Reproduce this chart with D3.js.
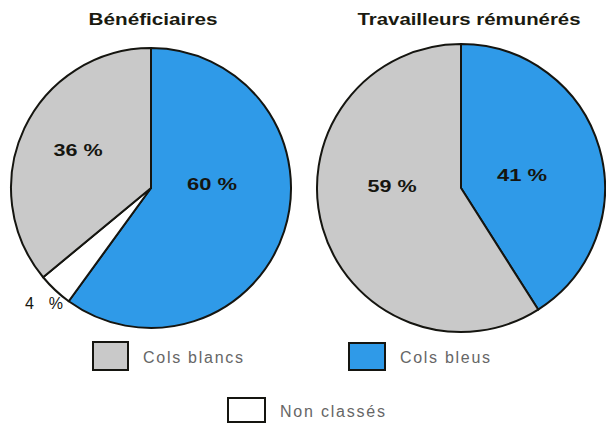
<!DOCTYPE html>
<html>
<head>
<meta charset="utf-8">
<script src="https://cdn.jsdelivr.net/npm/d3@7"></script>
<style>
  html, body { margin: 0; padding: 0; background: #fff; }
  svg { display: block; }
</style>
</head>
<body>
<svg id="chart" width="606" height="427"></svg>
<script>
// Share of each worker category, in percent
const categories = ["Cols bleus", "Non classés", "Cols blancs"];
const beneficiaires = [60, 4, 36];
const travailleurs = [41, 0, 59];
const pieTitles = ["Bénéficiaires", "Travailleurs rémunérés"];
const legendOrder = ["Cols blancs", "Cols bleus", "Non classés"];

const FONT = "Liberation Sans, Arial, sans-serif";
const svg = d3.select("#chart");

const colour = d3.scaleOrdinal()
  .domain(categories)
  .range(["#2f9ae8", "#ffffff", "#c9c9c9"]);

const pie = d3.pie().sort(null).value(d => d.value);

// Layout of the two pies and of their slice labels: [x, y, bold, width]
const pies = [
  { title: pieTitles[0], values: beneficiaires, cx: 151, cy: 188, r: 140,
    titleX: 153, titleW: 129,
    labels: { "Cols bleus": [212, 184, true, 50], "Non classés": [44, 303, false, 38], "Cols blancs": [78, 150, true, 49] } },
  { title: pieTitles[1], values: travailleurs, cx: 461, cy: 188, r: 144,
    titleX: 469, titleW: 223,
    labels: { "Cols bleus": [522, 175, true, 50], "Cols blancs": [392, 186, true, 49] } }
];

pies.forEach(p => {
  const data = categories.map((c, i) => ({ cat: c, value: p.values[i] }));
  const arcs = pie(data).filter(a => a.data.value > 0);
  const arc = d3.arc().innerRadius(0).outerRadius(p.r);
  const g = svg.append("g").attr("transform", `translate(${p.cx},${p.cy})`);

  g.selectAll("path")
    .data(arcs)
    .join("path")
    .attr("d", arc)
    .attr("fill", d => colour(d.data.cat))
    .attr("stroke", "#151510")
    .attr("stroke-width", 2)
    .attr("stroke-linejoin", "round");

  svg.append("text")
    .attr("x", p.titleX)
    .attr("y", 25)
    .attr("text-anchor", "middle")
    .attr("font-family", FONT)
    .attr("font-size", 17)
    .attr("font-weight", "bold")
    .attr("fill", "#1a1a10")
    .attr("textLength", p.titleW)
    .attr("lengthAdjust", "spacingAndGlyphs")
    .text(p.title);

  arcs.forEach(a => {
    const pos = p.labels[a.data.cat];
    if (!pos) return;
    svg.append("text")
      .attr("x", pos[0])
      .attr("y", pos[1])
      .attr("dy", "0.35em")
      .attr("text-anchor", "middle")
      .attr("font-family", FONT)
      .attr("font-size", pos[2] ? 17 : 16)
      .attr("font-weight", pos[2] ? "bold" : "normal")
      .attr("fill", "#151510")
      .attr("textLength", pos[3])
      .attr("lengthAdjust", pos[2] ? "spacingAndGlyphs" : "spacing")
      .text(`${a.data.value} %`);
  });
});

// Legend: [x, y, w, h, textWidth]
const legendPos = {
  "Cols blancs": [93, 342, 35, 28, 100],
  "Cols bleus": [349, 343, 36, 27, 90],
  "Non classés": [228, 398, 37, 24, 105]
};
legendOrder.forEach(cat => {
  const [x, y, w, h, tw] = legendPos[cat];
  svg.append("rect")
    .attr("x", x).attr("y", y).attr("width", w).attr("height", h)
    .attr("fill", colour(cat))
    .attr("stroke", "#151510")
    .attr("stroke-width", 2);
  svg.append("text")
    .attr("x", x + w + 15)
    .attr("y", y + h / 2 + 1)
    .attr("dy", "0.35em")
    .attr("font-family", FONT)
    .attr("font-size", 16)
    .attr("fill", "#666")
    .attr("textLength", tw)
    .attr("lengthAdjust", "spacing")
    .text(cat);
});
</script>
</body>
</html>
